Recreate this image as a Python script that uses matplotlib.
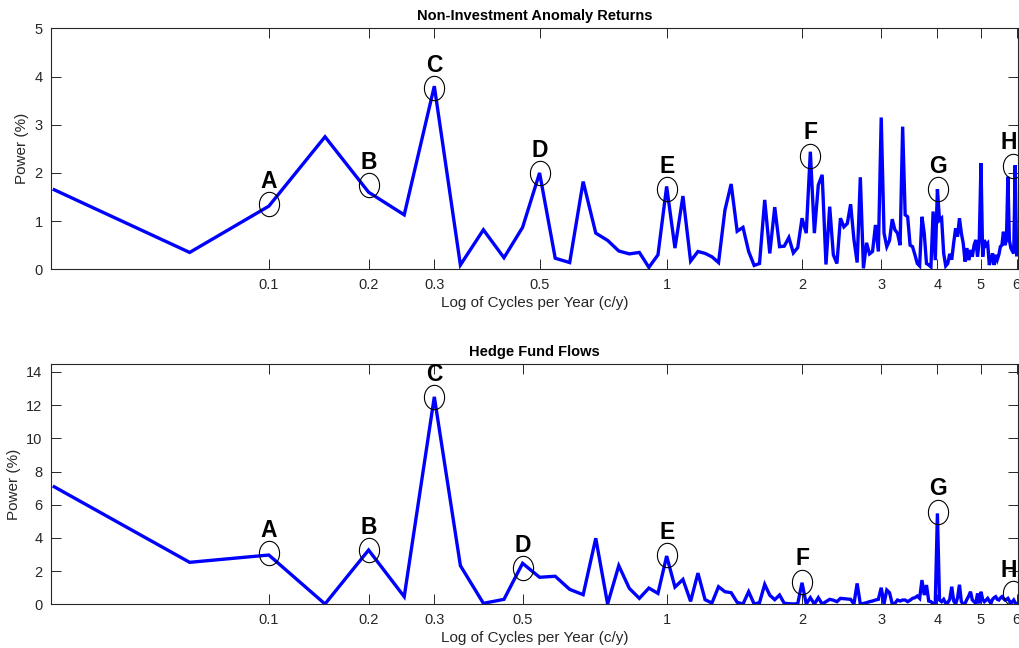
import numpy as np
import matplotlib
matplotlib.use("Agg")
from matplotlib import pyplot as plt
from matplotlib.path import Path

plt.rcParams['font.family'] = ['Liberation Sans', 'DejaVu Sans']

# spectral power (%) per frequency bin, bin k -> k/23 cycles per year
top_power = [
    1.65, 0.35, 1.31, 2.75, 1.60, 1.13, 3.80, 0.09, 0.82, 0.24,
    0.87, 2.00, 0.23, 0.14, 1.82, 0.75, 0.60, 0.38, 0.32, 0.35,
    0.04, 0.30, 1.72, 0.44, 1.52, 0.17, 0.37, 0.33, 0.26, 0.14,
    1.23, 1.77, 0.79, 0.87, 0.37, 0.08, 0.12, 1.44, 0.33, 1.29,
    0.47, 0.48, 0.66, 0.34, 0.45, 1.06, 0.75, 2.44, 0.75, 1.75,
    1.96, 0.10, 1.30, 0.30, 0.12, 1.06, 0.88, 0.95, 1.35, 0.62,
    0.14, 1.91, 0.02, 0.55, 0.32, 0.37, 0.92, 0.37, 3.15, 0.75,
    0.47, 0.60, 1.04, 0.82, 0.75, 0.50, 2.96, 1.13, 1.09, 0.50,
    0.47, 0.30, 0.12, 0.07, 1.09, 0.75, 0.12, 0.09, 0.05, 1.20,
    0.19, 1.66, 1.02, 1.06, 0.33, 0.07, 0.12, 0.32, 0.20, 0.55,
    0.85, 0.68, 1.06, 0.75, 0.54, 0.16, 0.44, 0.19, 0.40, 0.26,
    0.50, 0.61, 0.26, 0.61, 2.20, 0.26, 0.61, 0.50, 0.54, 0.09,
    0.20, 0.33, 0.09, 0.30, 0.20, 0.30, 0.47, 0.50, 0.78, 0.50,
    0.60, 1.92, 0.60, 0.44, 0.38, 0.33, 2.16, 0.30,
]
bottom_power = [
    7.08, 2.53, 2.97, 0.02, 3.27, 0.46, 12.50, 2.33, 0.06, 0.30,
    2.47, 1.63, 1.69, 0.90, 0.58, 3.98, 0.02, 2.33, 0.96, 0.36,
    0.98, 0.66, 2.91, 1.04, 1.50, 0.18, 1.88, 0.28, 0.08, 1.06,
    0.76, 0.70, 0.12, 0.02, 0.76, 0.02, 0.10, 1.20, 0.55, 0.28,
    0.56, 0.06, 0.04, 0.02, 0.04, 1.30, 0.02, 0.40, 0.02, 0.40,
    0.02, 0.16, 0.30, 0.25, 0.16, 0.36, 0.34, 0.32, 0.30, 0.02,
    1.26, 0.02, 0.05, 0.10, 0.16, 0.20, 0.26, 0.30, 1.00, 0.04,
    0.86, 0.70, 0.04, 0.06, 0.26, 0.20, 0.26, 0.26, 0.16, 0.25,
    0.36, 0.40, 0.50, 0.36, 1.46, 0.56, 1.16, 0.20, 0.16, 0.04,
    0.06, 5.48, 0.26, 0.16, 0.30, 0.06, 0.10, 0.30, 1.06, 0.20,
    0.02, 0.40, 1.18, 0.16, 0.02, 0.06, 0.30, 0.50, 0.76, 0.26,
    0.16, 0.06, 0.66, 0.06, 0.76, 0.30, 0.16, 0.25, 0.36, 0.20,
    0.06, 0.30, 0.40, 0.46, 0.30, 0.26, 0.38, 0.46, 0.35, 0.26,
    0.30, 0.36, 0.20, 0.06, 0.15, 0.26, 0.10, 0.02,
]
years = 23

tick_labels = ['0.1', '0.2', '0.3', '0.5', '1', '2', '3', '4', '5', '6']
top_tick_bins = [3, 5, 7, 12, 23, 46, 69, 92, 115, 138]
bottom_tick_bins = [3, 5, 7, 11, 23, 46, 69, 92, 115, 138]

mark_letters = ['A', 'B', 'C', 'D', 'E', 'F', 'G', 'H']
top_mark_bins = [3, 5, 7, 12, 23, 48, 92.4, 135.7]
top_mark_vals = [1.35, 1.75, 3.76, 1.99, 1.66, 2.36, 1.66, 2.15]
bottom_mark_bins = [3, 5, 7, 11, 23, 46, 92.4, 135.7]
bottom_mark_vals = [3.07, 3.27, 12.47, 2.17, 2.97, 1.36, 5.58, 0.66]

# ellipse marker, a bit taller than wide
t = np.linspace(0, 2 * np.pi, 60)
ellipse = Path(np.column_stack([0.83 * np.cos(t), np.sin(t)]))

gray = '#262626'
fig = plt.figure(figsize=(10.19, 6.48), dpi=100)
ax1 = fig.add_axes([0.0500, 0.5844, 0.9493, 0.3719])
ax2 = fig.add_axes([0.0500, 0.0674, 0.9493, 0.3704])


def draw_panel(ax, power, tick_bins, mark_bins, mark_vals, title, ymax, yticks):
    freq = np.arange(1, len(power) + 1) / years
    ax.plot(freq, power, color=(0, 0, 1), lw=2.4, solid_joinstyle='miter')
    mf = np.array(mark_bins) / years
    ax.plot(mf, mark_vals, ls='none', marker=ellipse, ms=17.5,
            mfc='none', mec='black', mew=0.8)
    for letter, x, y in zip(mark_letters, mf, mark_vals):
        # last letter sits at the right edge, nudge it in so it is not cut
        dx = -3 if letter == 'H' else 0
        ax.annotate(letter, (x, y), xytext=(dx, 16.5), textcoords='offset points',
                    ha='center', va='center', fontsize=16.5, fontweight='bold',
                    annotation_clip=False)
    ax.set_xscale('log')
    ax.set_xlim(0.9832 / years, 139.2 / years)
    ax.set_ylim(0, ymax)
    ax.set_xticks(np.array(tick_bins) / years)
    ax.set_xticklabels(tick_labels)
    ax.minorticks_off()
    ax.set_yticks(yticks)
    ax.tick_params(direction='in', length=7, width=0.7, colors=gray,
                   labelsize=10.5, top=True, right=True, pad=6)
    for s in ax.spines.values():
        s.set_color(gray)
        s.set_linewidth(0.8)
    ax.set_title(title, fontsize=10.5, fontweight='bold', pad=6)
    ax.set_xlabel('Log of Cycles per Year (c/y)', fontsize=11, color=gray,
                  labelpad=3)
    ax.set_ylabel('Power (%)', fontsize=11, color=gray, labelpad=4)


draw_panel(ax1, top_power, top_tick_bins, top_mark_bins, top_mark_vals,
           'Non-Investment Anomaly Returns', 5, range(0, 6))
draw_panel(ax2, bottom_power, bottom_tick_bins, bottom_mark_bins, bottom_mark_vals,
           'Hedge Fund Flows', 14.46, range(0, 15, 2))

fig.savefig('out.png', dpi=100)
